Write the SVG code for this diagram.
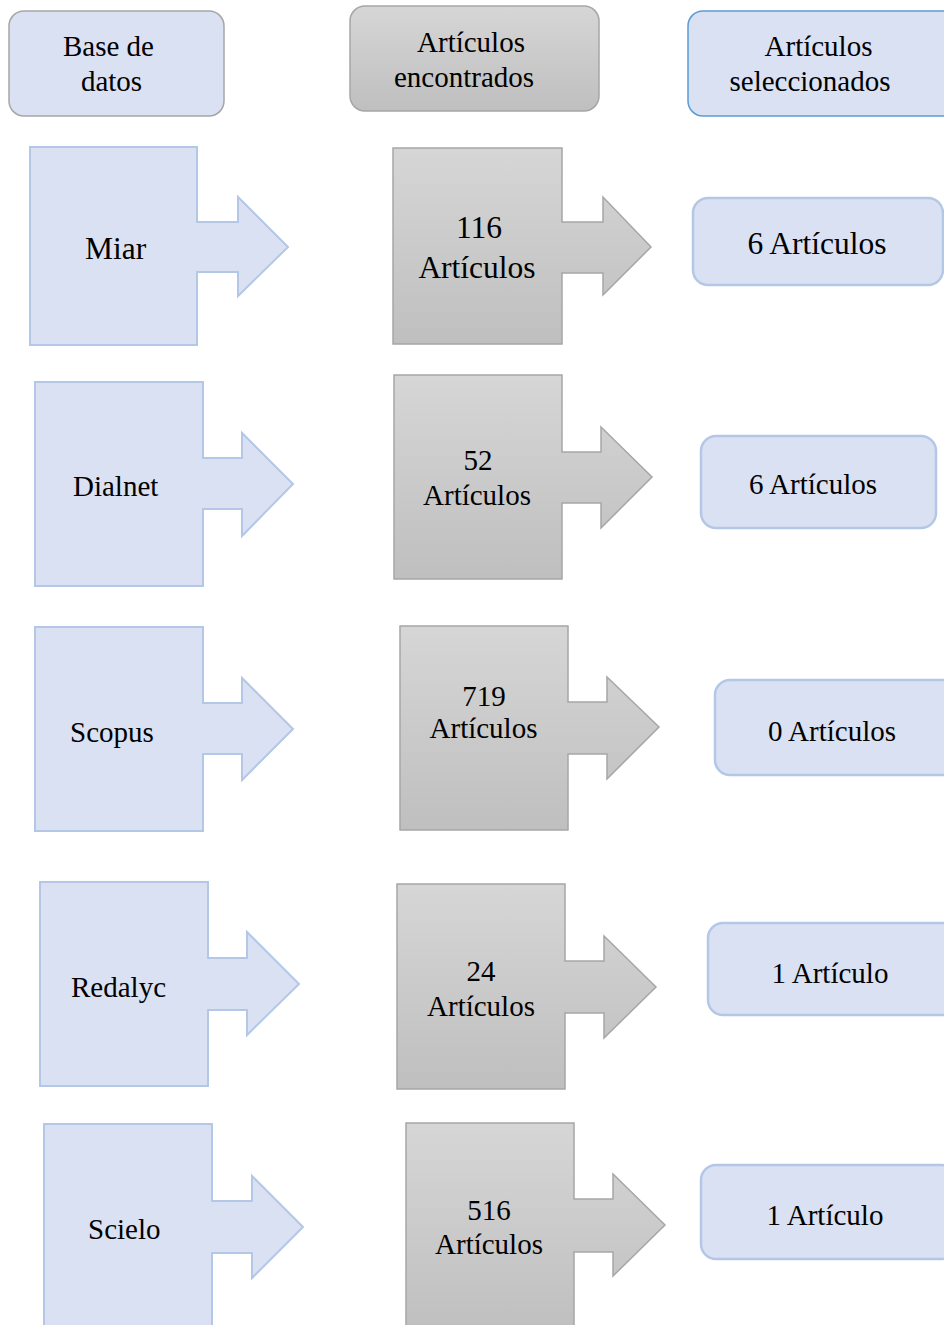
<svg xmlns="http://www.w3.org/2000/svg" width="944" height="1325" viewBox="0 0 944 1325" font-family="'Liberation Serif', 'Times New Roman', Tinos, 'DejaVu Serif', serif">
<defs>
<linearGradient id="gray" x1="0" y1="0" x2="0" y2="1">
<stop offset="0" stop-color="#d6d6d6"/>
<stop offset="1" stop-color="#bfbfbf"/>
</linearGradient>
<style>
.t{font-family:'Liberation Serif','Times New Roman',Tinos,'DejaVu Serif',serif;font-size:29px;fill:#000}
.big{font-size:31.5px}
.m{text-anchor:middle}
.blue{fill:#dae1f3;stroke:#b4c7e7;stroke-width:2}
.gray{fill:url(#gray);stroke:#a6a6a6;stroke-width:1.5}
.hdr1{fill:#dae1f3;stroke:#a6a6a6;stroke-width:1.5}
.hdr3{fill:#dae1f3;stroke:#5b9bd5;stroke-width:1.5}
.sel{fill:#dae1f3;stroke:#b4c7e7;stroke-width:2.5}
</style>
</defs>
<rect width="944" height="1325" fill="#fff"/>

<g id="hdr-base">
<rect class="hdr1" x="9" y="11" width="215" height="105" rx="15"/>
<text class="t m" x="108.5" y="56">Base de</text>
<text class="t m" x="111.5" y="91">datos</text>
</g>
<g id="hdr-encontrados">
<rect class="gray" x="350" y="6" width="249" height="105" rx="15"/>
<text class="t m" x="471" y="52">Artículos</text>
<text class="t m" x="464" y="87">encontrados</text>
</g>
<g id="hdr-seleccionados">
<rect class="hdr3" x="688" y="11" width="270" height="105" rx="15"/>
<text class="t m" x="818.5" y="56">Artículos</text>
<text class="t m" x="810" y="91">seleccionados</text>
</g>

<g id="db-miar">
<path class="blue" d="M30 147H197V222H238V197L288 247L238 296V272H197V345H30Z"/>
<text class="t big" x="85" y="259">Miar</text>
</g>
<g id="found-miar">
<path class="gray" d="M393 148H562V222H603V197L651 247L603 295V273H562V344H393Z"/>
<text class="t big m" x="479" y="238">116</text>
<text class="t big m" x="477" y="278">Artículos</text>
</g>
<g id="sel-miar">
<rect class="sel" x="693" y="198" width="250" height="87" rx="15"/>
<text class="t big m" x="817" y="254">6 Artículos</text>
</g>

<g id="db-dialnet">
<path class="blue" d="M35 382H203V458H242V433L293 484L242 536V509H203V586H35Z"/>
<text class="t" x="73" y="496">Dialnet</text>
</g>
<g id="found-dialnet">
<path class="gray" d="M394 375H562V452H601V427L652 477L601 528V503H562V579H394Z"/>
<text class="t m" x="478" y="470">52</text>
<text class="t m" x="477" y="505">Artículos</text>
</g>
<g id="sel-dialnet">
<rect class="sel" x="701" y="436" width="235" height="92" rx="15"/>
<text class="t m" x="813" y="494">6 Artículos</text>
</g>

<g id="db-scopus">
<path class="blue" d="M35 627H203V703H242V678L293 729L242 780V754H203V831H35Z"/>
<text class="t" x="70" y="742">Scopus</text>
</g>
<g id="found-scopus">
<path class="gray" d="M400 626H568V702H607V677L659 727L607 779V754H568V830H400Z"/>
<text class="t m" x="484" y="706">719</text>
<text class="t m" x="483.5" y="738">Artículos</text>
</g>
<g id="sel-scopus">
<rect class="sel" x="715" y="680" width="245" height="95" rx="15"/>
<text class="t m" x="832" y="741">0 Artículos</text>
</g>

<g id="db-redalyc">
<path class="blue" d="M40 882H208V958H247V932L299 984L247 1035V1010H208V1086H40Z"/>
<text class="t" x="71" y="997">Redalyc</text>
</g>
<g id="found-redalyc">
<path class="gray" d="M397 884H565V961H604V936L656 987L604 1038V1013H565V1089H397Z"/>
<text class="t m" x="481" y="981">24</text>
<text class="t m" x="481" y="1016">Artículos</text>
</g>
<g id="sel-redalyc">
<rect class="sel" x="708" y="923" width="250" height="92" rx="15"/>
<text class="t m" x="830" y="983">1 Artículo</text>
</g>

<g id="db-scielo">
<path class="blue" d="M44 1124H212V1201H252V1176L303 1227L252 1278V1253H212V1335H44Z"/>
<text class="t" x="88" y="1239">Scielo</text>
</g>
<g id="found-scielo">
<path class="gray" d="M406 1123H574V1199H613V1174L665 1225L613 1276V1252H574V1335H406Z"/>
<text class="t m" x="489" y="1220">516</text>
<text class="t m" x="489" y="1254">Artículos</text>
</g>
<g id="sel-scielo">
<rect class="sel" x="701" y="1165" width="255" height="94" rx="15"/>
<text class="t m" x="825" y="1225">1 Artículo</text>
</g>

<g id="connectors"/>
</svg>
